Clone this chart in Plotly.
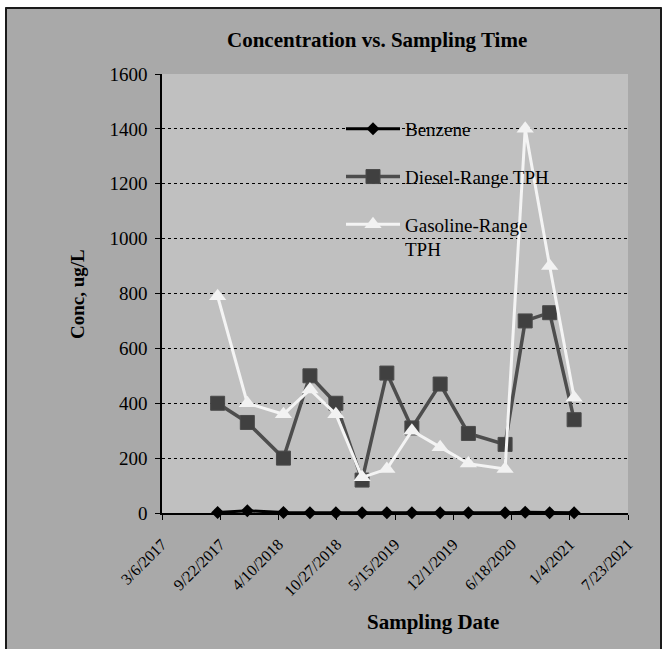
import plotly.graph_objects as go
from datetime import date

# Sampling events and measured concentrations (ug/L)
sample_dates = ["2017-09-13", "2017-12-24", "2018-04-27", "2018-07-27", "2018-10-24",
                "2019-01-22", "2019-04-17", "2019-07-12", "2019-10-17", "2020-01-22",
                "2020-05-27", "2020-08-04", "2020-10-27", "2021-01-19"]
benzene = [2, 8, 2, 1, 1, 0.5, 1, 0.5, 0.5, 0.5, 0.5, 3, 1, 0.5]
diesel_tph = [400, 330, 200, 500, 400, 120, 510, 310, 470, 290, 250, 700, 730, 340]
gasoline_tph = [790, 400, 360, 450, 360, 130, 160, 300, 240, 180, 160, 1400, 900, 420]

# Date axis tick labels (200-day steps)
x_tick_labels = ["3/6/2017", "9/22/2017", "4/10/2018", "10/27/2018", "5/15/2019",
                 "12/1/2019", "6/18/2020", "1/4/2021", "7/23/2021"]
y_tick_values = [0, 200, 400, 600, 800, 1000, 1200, 1400, 1600]


def to_iso(label):
    m, d, y = (int(p) for p in label.split("/"))
    return date(y, m, d).isoformat()


x_tick_vals = [to_iso(t) for t in x_tick_labels]

FONT = "Liberation Serif, Times New Roman, serif"
W_FIG, H_FIG = 664, 649
L, R, T, B = 162, 36, 74, 136
PW, PH = W_FIG - L - R, H_FIG - T - B


def px_x(px):
    return (px - L) / PW


def px_y(py):
    return (T + PH - py) / PH


fig = go.Figure()

fig.add_trace(go.Scatter(
    x=sample_dates, y=benzene, name="Benzene", mode="lines+markers",
    line=dict(color="#000000", width=3),
    marker=dict(symbol="diamond", size=10, color="#000000"),
    cliponaxis=False, legendgroup="a"))

fig.add_trace(go.Scatter(
    x=sample_dates, y=diesel_tph, name="Diesel-Range TPH", mode="lines+markers",
    line=dict(color="#4d4d4d", width=3.5),
    marker=dict(symbol="square", size=14, color="#404040",
                line=dict(color="#4a4a4a", width=1)),
    cliponaxis=False, legendgroup="b"))

fig.add_trace(go.Scatter(
    x=sample_dates, y=gasoline_tph, name="Gasoline-Range<br>TPH", mode="lines+markers",
    line=dict(color="#f4f4f4", width=3),
    marker=dict(symbol="triangle-up", size=15, color="#f2f2f2"),
    cliponaxis=False, legendgroup="c"))

shapes = [
    # white surround outside the chart frame
    dict(type="rect", xref="paper", yref="paper", x0=px_x(-2), x1=px_x(5),
         y0=px_y(H_FIG + 2), y1=px_y(-2), fillcolor="white", line_width=0, layer="above"),
    dict(type="rect", xref="paper", yref="paper", x0=px_x(-2), x1=px_x(W_FIG + 2),
         y0=px_y(7), y1=px_y(-2), fillcolor="white", line_width=0, layer="above"),
    dict(type="rect", xref="paper", yref="paper", x0=px_x(662), x1=px_x(W_FIG + 2),
         y0=px_y(H_FIG + 2), y1=px_y(-2), fillcolor="white", line_width=0, layer="above"),
    # chart frame
    dict(type="line", xref="paper", yref="paper", x0=px_x(6), x1=px_x(6),
         y0=px_y(H_FIG + 2), y1=px_y(7.5), line=dict(color="#1a1a1a", width=2)),
    dict(type="line", xref="paper", yref="paper", x0=px_x(5.5), x1=px_x(661.5),
         y0=px_y(8), y1=px_y(8), line=dict(color="#1a1a1a", width=2)),
    dict(type="line", xref="paper", yref="paper", x0=px_x(661), x1=px_x(661),
         y0=px_y(H_FIG + 2), y1=px_y(7.5), line=dict(color="#1a1a1a", width=2)),
]

annotations = [
    dict(text="<b>Concentration vs. Sampling Time</b>", x=px_x(377), y=px_y(40),
         xref="paper", yref="paper", showarrow=False, xanchor="center", yanchor="middle",
         font=dict(family=FONT, size=21, color="#000000")),
    dict(text="<b>Sampling Date</b>", x=px_x(433), y=px_y(622),
         xref="paper", yref="paper", showarrow=False, xanchor="center", yanchor="middle",
         font=dict(family=FONT, size=21, color="#000000")),
    dict(text="<b>Conc, ug/L</b>", x=px_x(77), y=px_y(294), textangle=-90,
         xref="paper", yref="paper", showarrow=False, xanchor="center", yanchor="middle",
         font=dict(family=FONT, size=19, color="#000000")),
]

fig.update_layout(
    width=W_FIG, height=H_FIG,
    margin=dict(l=L, r=R, t=T, b=B, pad=0),
    paper_bgcolor="#a9a9a9", plot_bgcolor="#c0c0c0",
    font=dict(family=FONT, color="#000000"),
    showlegend=True,
    legend=dict(x=px_x(341), y=px_y(110), xanchor="left", yanchor="top",
                bgcolor="rgba(0,0,0,0)", borderwidth=0, itemwidth=54,
                font=dict(family=FONT, size=19, color="#000000"),
                traceorder="grouped", tracegroupgap=20, valign="top"),
    shapes=shapes, annotations=annotations,
)

fig.update_xaxes(
    type="date", range=[x_tick_vals[0], x_tick_vals[-1]],
    tickmode="array", tickvals=x_tick_vals, ticktext=x_tick_labels, tickangle=-45,
    tickfont=dict(family=FONT, size=16, color="#000000"), ticklabelstandoff=9,
    ticks="outside", ticklen=5, tickcolor="#000000", tickwidth=1,
    showline=True, linecolor="#000000", linewidth=1.5,
    showgrid=False, zeroline=False,
)

fig.update_yaxes(
    range=[0, 1600], tickmode="array", tickvals=y_tick_values,
    tickfont=dict(family=FONT, size=19, color="#000000"), ticklabelstandoff=4,
    ticks="outside", ticklen=5, tickcolor="#000000", tickwidth=1,
    showline=True, linecolor="#000000", linewidth=1.5,
    showgrid=True, gridcolor="#000000", gridwidth=1, griddash="dot",
    zeroline=False,
)

fig.write_html("out.html")
